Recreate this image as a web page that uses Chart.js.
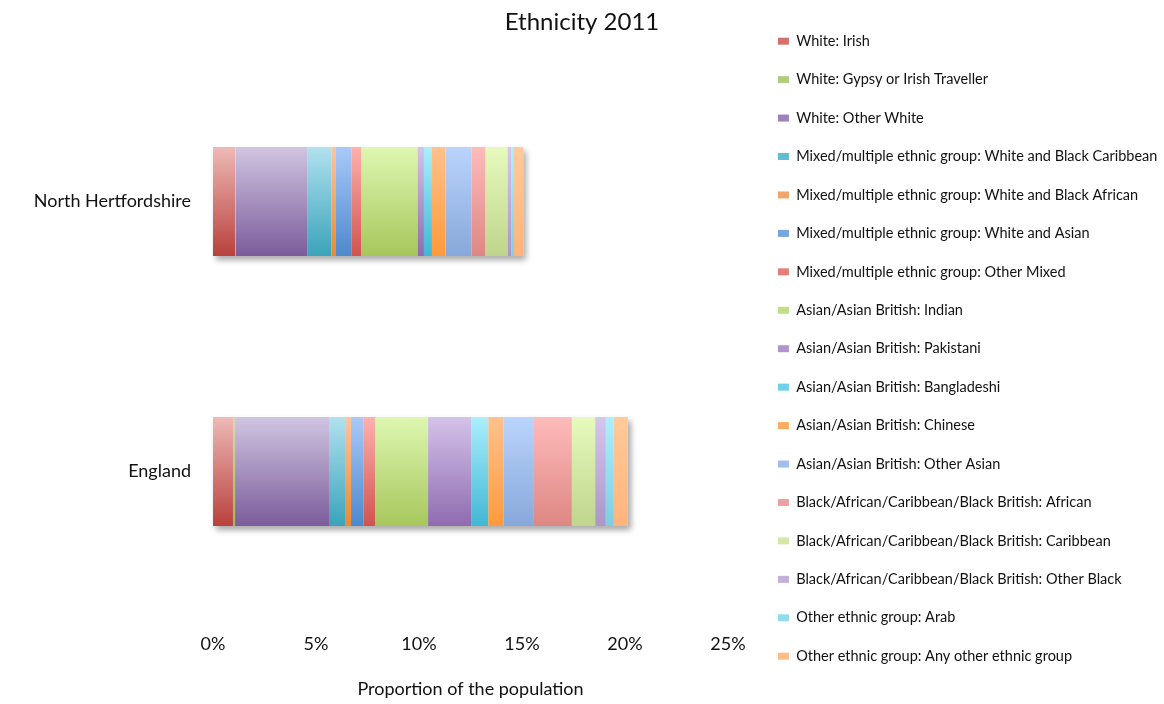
<!DOCTYPE html>
<html>
<head>
<meta charset="utf-8">
<title>Ethnicity 2011</title>
<script src="https://cdn.jsdelivr.net/npm/chart.js@4/dist/chart.umd.min.js"></script>
<style>
	html, body { margin: 0; padding: 0; background: #fff; }
	#wrap { width: 1164px; height: 704px; }
</style>
</head>
<body>
<div id="wrap"><canvas id="chart"></canvas></div>
<script>
// areas on the y axis
const categories = ['North Hertfordshire', 'England'];

// one series per ethnic group
const groups = [
	'White: Irish',
	'White: Gypsy or Irish Traveller',
	'White: Other White',
	'Mixed/multiple ethnic group: White and Black Caribbean',
	'Mixed/multiple ethnic group: White and Black African',
	'Mixed/multiple ethnic group: White and Asian',
	'Mixed/multiple ethnic group: Other Mixed',
	'Asian/Asian British: Indian',
	'Asian/Asian British: Pakistani',
	'Asian/Asian British: Bangladeshi',
	'Asian/Asian British: Chinese',
	'Asian/Asian British: Other Asian',
	'Black/African/Caribbean/Black British: African',
	'Black/African/Caribbean/Black British: Caribbean',
	'Black/African/Caribbean/Black British: Other Black',
	'Other ethnic group: Arab',
	'Other ethnic group: Any other ethnic group'
];

// % of population, same order as groups
const northHerts = [1.07, 0.04, 3.46, 1.17, 0.23, 0.74, 0.49, 2.72, 0.32, 0.39, 0.65, 1.26, 0.68, 1.07, 0.19, 0.13, 0.45];
const england = [0.97, 0.10, 4.56, 0.78, 0.29, 0.62, 0.55, 2.57, 2.09, 0.83, 0.73, 1.49, 1.84, 1.13, 0.52, 0.39, 0.68];

const xTicks = [0, 5, 10, 15, 20, 25];

// gradient stops: top, bottom
const topColors = ['#eeb9b7', '#cfe0a8', '#d0c5e1', '#b2e1ef', '#ffc4a0', '#aac9f9', '#feb1ae', '#def7b1', '#d4c3ea',
	'#abeefd', '#ffc18d', '#bad4fc', '#febbba', '#e6fabd', '#d5c6ec', '#adeefd', '#ffca9a'];
const bottomColors = ['#b9413c', '#9bbb59', '#7b5c9b', '#3aa3ba', '#e98a2f', '#4e88cc', '#d1534e', '#a7c75c', '#8e6baf',
	'#40b7d4', '#ff9a3b', '#87a8da', '#dd8784', '#bfd58d', '#ab96c8', '#7dcee1', '#ffb47b'];
const legendColors = ['#d4716d', '#b3cc80', '#9a84b8', '#62bcd2', '#f2a56a', '#76a4e0', '#e57d79', '#c2de87', '#b095cc',
	'#6fd0e8', '#ffac62', '#a0bdeb', '#eda09e', '#d3e8a6', '#c1aedb', '#93dcee', '#ffbd8a'];

const BAR_PCT = 0.404;
const FONT = 'Lato';

function barGradient(index) {
	return (context) => {
		const chart = context.chart;
		const area = chart.chartArea;
		const yScale = chart.scales.y;
		if (!area || !yScale || context.type !== 'data') {
			return legendColors[index];
		}
		const band = (area.bottom - area.top) / categories.length;
		const half = band * BAR_PCT / 2;
		const center = yScale.getPixelForValue(context.dataIndex);
		const g = chart.ctx.createLinearGradient(0, center - half, 0, center + half);
		g.addColorStop(0, topColors[index]);
		g.addColorStop(1, bottomColors[index]);
		return g;
	};
}

const datasets = groups.map((name, i) => ({
	label: name,
	data: [northHerts[i], england[i]],
	backgroundColor: barGradient(i),
	borderWidth: 0,
	categoryPercentage: BAR_PCT,
	barPercentage: 1
}));

// soft shadow under each stacked bar
const barShadow = {
	id: 'barShadow',
	beforeDatasetsDraw(chart) {
		const ctx = chart.ctx;
		const last = chart.getDatasetMeta(chart.data.datasets.length - 1);
		const x0 = chart.scales.x.getPixelForValue(0);
		ctx.save();
		ctx.shadowColor = 'rgba(0, 0, 0, 0.35)';
		ctx.shadowBlur = 6;
		ctx.shadowOffsetX = 3;
		ctx.shadowOffsetY = 4;
		ctx.fillStyle = '#fff';
		last.data.forEach((bar) => {
			const p = bar.getProps(['x', 'y', 'height'], true);
			ctx.fillRect(x0, p.y - p.height / 2, p.x - x0, p.height);
		});
		ctx.restore();
	}
};

const chart = new Chart(document.getElementById('chart'), {
	type: 'bar',
	data: { labels: categories, datasets: datasets },
	options: {
		indexAxis: 'y',
		responsive: true,
		maintainAspectRatio: false,
		animation: false,
		layout: { padding: { top: 10, right: 0, bottom: 0, left: 0 } },
		scales: {
			x: {
				stacked: true,
				min: xTicks[0],
				max: xTicks[xTicks.length - 1],
				afterBuildTicks: (scale) => { scale.ticks = xTicks.map(v => ({ value: v })); },
				grid: { display: false, drawTicks: false },
				border: { display: false },
				ticks: {
					padding: 27,
					color: '#111',
					font: { family: FONT, size: 18 },
					callback: (v) => v + '%'
				},
				title: {
					display: true,
					text: 'Proportion of the population',
					color: '#111',
					font: { family: FONT, size: 18 },
					padding: { top: 0, bottom: 4 }
				},
				afterFit: (scale) => { scale.height = 97.5; }
			},
			y: {
				stacked: true,
				grid: { display: false, drawTicks: false },
				border: { display: false },
				ticks: {
					padding: 22,
					color: '#111',
					font: { family: FONT, size: 18 }
				},
				afterFit: (scale) => { scale.width = 213; }
			},
			// empty spacer between the plot and the legend
			gap: {
				type: 'category',
				position: 'right',
				display: true,
				grid: { display: false, drawTicks: false },
				border: { display: false },
				ticks: { display: false },
				afterFit: (scale) => { scale.width = 26; }
			}
		},
		plugins: {
			title: {
				display: true,
				text: 'Ethnicity 2011',
				color: '#111',
				font: { family: FONT, size: 24, weight: 'normal', lineHeight: 1 },
				padding: { top: 0, bottom: 32.5 }
			},
			legend: {
				position: 'right',
				align: 'start',
				maxWidth: 410,
				labels: {
					color: '#111',
					font: { family: FONT, size: 14.5 },
					boxWidth: 11,
					boxHeight: 7,
					padding: 23.94,
					generateLabels: (ch) => {
						const items = Chart.defaults.plugins.legend.labels.generateLabels(ch);
						items.forEach((item) => {
							item.fillStyle = legendColors[item.datasetIndex];
							item.strokeStyle = legendColors[item.datasetIndex];
							item.lineWidth = 0;
						});
						return items;
					}
				}
			},
			tooltip: { enabled: false }
		}
	},
	plugins: [barShadow]
});
</script>
</body>
</html>
